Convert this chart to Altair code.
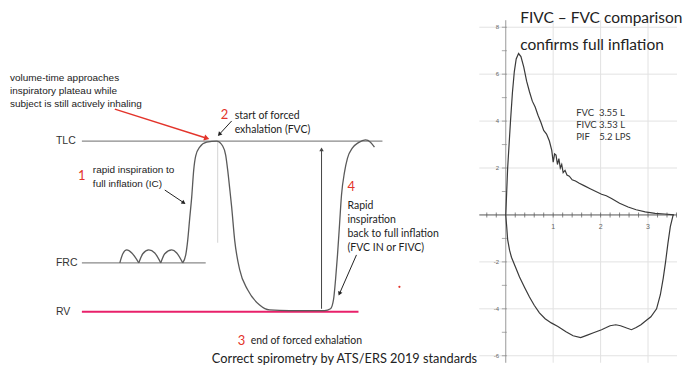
import math
import altair as alt
import pandas as pd

# ---------------- left panel: schematic volume-time trace (t in s, volume in L)
trace_seg = ["b1"] * 5 + ["b2"] * 5 + ["b3"] * 5 + ["main"] * 35
trace_t = [5.6, 5.75, 5.95, 6.2, 6.55,
           6.55, 6.75, 7.05, 7.35, 7.65,
           7.65, 7.85, 8.2, 8.45, 8.75,
           8.75, 8.9, 9.0, 9.1, 9.2, 9.3, 9.4, 9.6, 9.95, 10.45,
           10.75, 10.9, 11.0, 11.1, 11.2, 11.35, 11.6, 12.0, 12.6, 13.1,
           14.1, 15.85, 16.15, 16.3, 16.4, 16.5, 16.6, 16.7, 16.85, 17.0,
           17.25, 17.55, 17.9, 18.15, 18.35]
trace_v = [2.79, 3.03, 3.13, 3.05, 2.79,
           2.79, 3.03, 3.13, 3.05, 2.79,
           2.79, 3.03, 3.13, 3.05, 2.79,
           2.79, 3.0, 3.39, 3.97, 4.53, 5.24, 5.61, 5.84, 5.97, 6.0,
           5.87, 5.63, 5.24, 4.76, 4.26, 3.39, 2.61, 2.08, 1.68, 1.55,
           1.53, 1.53, 1.58, 1.82, 2.34, 3.0, 3.79, 4.58, 5.18, 5.55,
           5.82, 5.96, 6.03, 5.97, 5.84]

level_name = ["TLC", "FRC", "RV"]
level_v = [6.0, 2.79, 1.5]
level_t0 = [3.7, 3.7, 3.7]
level_t1 = [18.75, 9.9, 17.55]

divider_t = [10.5]
divider_v0 = [3.32]
divider_v1 = [6.0]

arrow_t0 = [5.35, 11.2, 7.85, 17.45, 15.7]
arrow_v0 = [6.84, 6.53, 4.71, 3.0, 1.58]
arrow_t1 = [10.1, 10.5, 8.9, 16.55, 15.7]
arrow_v1 = [6.05, 6.13, 4.34, 1.92, 5.84]
arrow_kind = ["red", "black", "black", "black", "gray"]

note_lines = ["volume-time approaches", "inspiratory plateau while",
              "subject is still actively inhaling", "rapid inspiration to", "full inflation (IC)"]
note_t = [0.1, 0.1, 0.1, 4.25, 4.25]
note_v = [7.66, 7.32, 6.97, 5.24, 4.87]

callout_lines = ["start of forced", "exhalation (FVC)", "Rapid", "inspiration",
                 "back to full inflation", "(FVC IN or FIVC)", "end of forced exhalation"]
callout_t = [11.35, 11.35, 17.0, 17.0, 17.0, 17.0, 12.15]
callout_v = [6.66, 6.29, 4.29, 3.92, 3.55, 3.18, 0.74]

step_num = ["1", "2", "3", "4"]
step_t = [3.5, 10.65, 11.5, 17.0]
step_v = [5.08, 6.68, 0.74, 4.79]

dot_t = [19.6]
dot_v = [2.16]

footer = "Correct spirometry by ATS/ERS 2019 standards"

# ---------------- right panel: flow-volume loop (volume L, flow L/s)
exp_vol = [0, 0.02, 0.04, 0.07, 0.1, 0.14, 0.18, 0.22, 0.27, 0.32, 0.38, 0.44, 0.5, 0.56,
           0.62, 0.68, 0.74, 0.8, 0.86, 0.92, 0.97, 1.0, 1.03, 1.06, 1.09, 1.12, 1.15,
           1.18, 1.21, 1.25, 1.29, 1.34, 1.4, 1.47, 1.55, 1.65, 1.78, 1.9, 2.02, 2.12,
           2.23, 2.4, 2.58, 2.75, 2.94, 3.15, 3.35, 3.55]
exp_flow = [0, 1.0, 2.0, 3.0, 4.0, 5.2, 6.1, 6.65, 6.88, 6.75, 6.3, 5.7, 5.25, 4.85,
            4.6, 4.25, 3.95, 3.6, 3.45, 3.15, 2.75, 2.25, 2.6, 2.55, 2.15, 2.4, 2.0,
            2.15, 1.8, 1.9, 1.7, 1.65, 1.5, 1.45, 1.35, 1.25, 1.12, 1.0, 0.88, 0.82,
            0.7, 0.5, 0.34, 0.22, 0.13, 0.07, 0.04, 0.0]
insp_vol = [0, 0.02, 0.04, 0.08, 0.12, 0.2, 0.29, 0.4, 0.5, 0.6, 0.71, 0.83, 0.96, 1.1,
            1.27, 1.42, 1.58, 1.72, 1.85, 2.02, 2.12, 2.2, 2.32, 2.42, 2.55, 2.65, 2.75,
            2.85, 2.96, 3.06, 3.18, 3.26, 3.32, 3.37, 3.42, 3.47, 3.53]
insp_flow = [0, -0.5, -1.05, -1.5, -1.8, -2.2, -2.64, -3.1, -3.5, -3.85, -4.17, -4.42,
             -4.6, -4.75, -4.98, -5.15, -5.23, -5.12, -5.02, -4.89, -4.8, -4.72, -4.68,
             -4.72, -4.82, -4.89, -4.8, -4.68, -4.5, -4.34, -4.0, -3.4, -2.7, -2.0, -1.2,
             -0.5, 0.0]

grid_flow = [-6, -4, -2, 2, 4, 6, 8]
grid_vol = [1, 2, 3]
ylab_flow = [8, 6, 4, 2, -2, -4, -6]
xlab_vol = [1, 2, 3]
xtick_vol = [round(-0.4 + 0.2 * k, 1) for k in range(21) if abs(-0.4 + 0.2 * k) > 1e-9]
ytick_flow = [k for k in range(-6, 9) if k != 0]

stats_lines = ["FVC\u00a0\u00a03.55 L", "FIVC 3.53 L", "PIF\u00a0\u00a0\u00a0\u00a05.2 LPS"]
stats_flow = [4.34, 3.83, 3.32]
stats_vol = 1.484
title_lines = ["FIVC \u2013 FVC comparison", "confirms full inflation"]
title_flow = [8.38, 7.23]
title_vol = 0.305

# ---------------- layout
LW, LH = 470, 358
RW, RH = 198, 358
TD = [0.0, 23.5]
VD = [0.079, 9.5]
VOLD = [-0.5579, 3.611]
FLD = [-6.426, 8.8085]

RED = "#e3342b"
PINK = "#e8206a"

xs = alt.Scale(domain=TD, nice=False, zero=False)
ys = alt.Scale(domain=VD, nice=False, zero=False)
X = alt.X("t:Q", scale=xs, axis=None)
Y = alt.Y("v:Q", scale=ys, axis=None)

trace_df = pd.DataFrame({"t": trace_t, "v": trace_v, "seg": trace_seg,
                         "i": list(range(len(trace_t)))})
trace = alt.Chart(trace_df).mark_line(interpolate="monotone", color="#5a5a5a",
                                      strokeWidth=1.3).encode(
    x=X, y=Y, detail="seg:N", order="i:Q")

lev_df = pd.DataFrame({"t": level_t0, "t2": level_t1, "v": level_v, "name": level_name,
                       "c": ["#8a8a8a", "#8a8a8a", PINK], "w": [1.3, 1.3, 2.0]})
levels = alt.Chart(lev_df).mark_rule().encode(
    x=X, x2="t2:Q", y=Y,
    color=alt.Color("c:N", scale=None),
    strokeWidth=alt.StrokeWidth("w:Q", scale=None))
lev_text = alt.Chart(lev_df).mark_text(align="left", baseline="middle", font="Liberation Sans",
                                       fontSize=10.5, color="#333").encode(
    x=alt.X("tl:Q", scale=xs, axis=None), y=Y, text="name:N").transform_calculate(tl="2.4")

div_df = pd.DataFrame({"t": divider_t, "v": divider_v0, "v2": divider_v1})
divider = alt.Chart(div_df).mark_rule(color="#d4d4d4", strokeWidth=1).encode(x=X, y=Y, y2="v2:Q")

px_t = LW / (TD[1] - TD[0])
px_v = LH / (VD[1] - VD[0])
col_map = {"red": RED, "black": "#222", "gray": "#444"}
size_map = {"red": 38, "black": 22, "gray": 20}
rows = []
for t0, v0, t1, v1, k in zip(arrow_t0, arrow_v0, arrow_t1, arrow_v1, arrow_kind):
    dx = (t1 - t0) * px_t
    dy = -(v1 - v0) * px_v
    L = math.hypot(dx, dy)
    ux, uy = dx / L, dy / L
    r = math.sqrt(size_map[k]) / 2
    ang = math.degrees(math.atan2(dx, -dy)) % 360
    rows.append({"t": t0, "v": v0, "t2": t1 - r * ux / px_t, "v2": v1 + r * uy / px_v,
                 "ht": t1 - r * ux / px_t, "hv": v1 + r * uy / px_v,
                 "a": ang, "c": col_map[k], "s": size_map[k],
                 "w": 1.4 if k == "red" else 1.0})
arr_df = pd.DataFrame(rows)
arrow_lines = alt.Chart(arr_df).mark_rule().encode(
    x=X, y=Y, x2="t2:Q", y2="v2:Q", color=alt.Color("c:N", scale=None),
    strokeWidth=alt.StrokeWidth("w:Q", scale=None))
arrow_heads = alt.Chart(arr_df).mark_point(shape="triangle-up", filled=True, opacity=1).encode(
    x=alt.X("ht:Q", scale=xs, axis=None), y=alt.Y("hv:Q", scale=ys, axis=None),
    angle=alt.Angle("a:Q", scale=None), color=alt.Color("c:N", scale=None),
    size=alt.Size("s:Q", scale=None))

note_df = pd.DataFrame({"t": note_t, "v": note_v, "s": note_lines})
notes = alt.Chart(note_df).mark_text(align="left", baseline="middle", font="Liberation Sans",
                                     fontSize=10, color="#222").encode(x=X, y=Y, text="s:N")

call_df = pd.DataFrame({"t": callout_t, "v": callout_v, "s": callout_lines})
callouts = alt.Chart(call_df).mark_text(align="left", baseline="middle", font="Lato",
                                        fontSize=10.5, color="#222").encode(x=X, y=Y, text="s:N")

step_df = pd.DataFrame({"t": step_t, "v": step_v, "s": step_num})
steps = alt.Chart(step_df).mark_text(align="left", baseline="middle", font="Lato",
                                     fontSize=13, color=RED).encode(x=X, y=Y, text="s:N")

dot_df = pd.DataFrame({"t": dot_t, "v": dot_v})
dot = alt.Chart(dot_df).mark_point(filled=True, size=5, color=RED, opacity=1).encode(x=X, y=Y)

foot_df = pd.DataFrame({"t": [16.85], "v": [0.25], "s": [footer]})
foot = alt.Chart(foot_df).mark_text(align="center", baseline="middle", font="Lato",
                                    fontSize=12.8, color="#222").encode(x=X, y=Y, text="s:N")

left = alt.layer(divider, levels, lev_text, trace, arrow_lines, arrow_heads, notes,
                 callouts, steps, dot, foot).properties(width=LW, height=LH)

# ---- right panel
vs = alt.Scale(domain=VOLD, nice=False, zero=False)
fs = alt.Scale(domain=FLD, nice=False, zero=False)
VX = alt.X("vol:Q", scale=vs, axis=None)
FY = alt.Y("flow:Q", scale=fs, axis=None)

hgrid = alt.Chart(pd.DataFrame({"flow": grid_flow, "vol": VOLD[0], "vol2": VOLD[1]})).mark_rule(
    color="#e2e2e2", strokeWidth=1).encode(x=VX, x2="vol2:Q", y=FY)
vgrid = alt.Chart(pd.DataFrame({"vol": grid_vol, "flow": -6.3, "flow2": 8.3})).mark_rule(
    color="#e2e2e2", strokeWidth=1).encode(x=VX, y=FY, y2="flow2:Q")
yaxis = alt.Chart(pd.DataFrame({"vol": [0], "flow": [-6.3], "flow2": [8.3]})).mark_rule(
    color="#9a9a9a", strokeWidth=1).encode(x=VX, y=FY, y2="flow2:Q")
xaxis = alt.Chart(pd.DataFrame({"flow": [0], "vol": [VOLD[0]], "vol2": [VOLD[1]]})).mark_rule(
    color="#555", strokeWidth=1).encode(x=VX, x2="vol2:Q", y=FY)
xticks = alt.Chart(pd.DataFrame({"vol": xtick_vol, "flow": 0})).mark_tick(
    orient="vertical", size=5, thickness=1, color="#555").encode(x=VX, y=FY)
yticks = alt.Chart(pd.DataFrame({"vol": -0.03, "flow": ytick_flow})).mark_tick(
    orient="horizontal", size=5, thickness=1, color="#888").encode(x=VX, y=FY)
ylabels = alt.Chart(pd.DataFrame({"vol": -0.14, "flow": ylab_flow,
                                  "s": [str(f) for f in ylab_flow]})).mark_text(
    align="right", baseline="middle", font="Liberation Sans", fontSize=6, color="#666").encode(
    x=VX, y=FY, text="s:N")
xlabels = alt.Chart(pd.DataFrame({"vol": xlab_vol, "flow": -0.5,
                                  "s": [str(v) for v in xlab_vol]})).mark_text(
    align="center", baseline="middle", font="Liberation Sans", fontSize=7, color="#666").encode(
    x=VX, y=FY, text="s:N")

loop_df = pd.concat([
    pd.DataFrame({"vol": exp_vol, "flow": exp_flow, "seg": "exp", "i": range(len(exp_vol))}),
    pd.DataFrame({"vol": insp_vol, "flow": insp_flow, "seg": "insp", "i": range(len(insp_vol))}),
])
loop = alt.Chart(loop_df).mark_line(color="#3a3a3a", strokeWidth=1.2).encode(
    x=VX, y=FY, detail="seg:N", order="i:Q")

stats = alt.Chart(pd.DataFrame({"vol": stats_vol, "flow": stats_flow, "s": stats_lines})).mark_text(
    align="left", baseline="middle", font="Lato", fontSize=9.5, color="#333").encode(
    x=VX, y=FY, text="s:N")
rtitle = alt.Chart(pd.DataFrame({"vol": title_vol, "flow": title_flow, "s": title_lines})).mark_text(
    align="left", baseline="middle", font="Lato", fontSize=15.5, color="#222").encode(
    x=VX, y=FY, text="s:N")

right = alt.layer(hgrid, vgrid, yaxis, xaxis, xticks, yticks, ylabels, xlabels, loop,
                  stats, rtitle).properties(width=RW, height=RH)

chart = alt.hconcat(left, right, spacing=2).properties(
    padding=0, bounds="flush").configure_view(stroke=None)

chart.save("out.html", embed_options={"renderer": "svg", "actions": False})
